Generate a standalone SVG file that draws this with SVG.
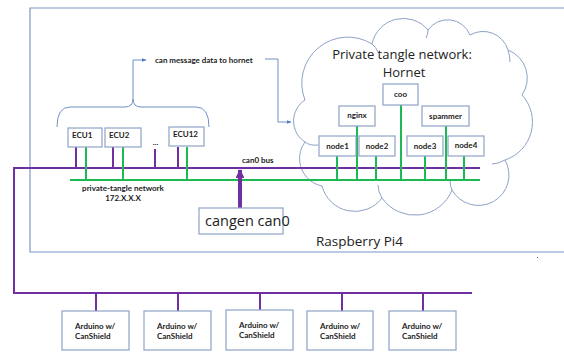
<svg xmlns="http://www.w3.org/2000/svg" width="564" height="352" viewBox="0 0 564 352">
<defs>
<style>
.frame{fill:none;stroke:#7f96c4;stroke-width:1.2}
.box{fill:#fff;stroke:#8ea2c6;stroke-width:1.2}
.pur{fill:none;stroke:#7030a0;stroke-width:2}
.grn{fill:none;stroke:#1db954;stroke-width:2}
.blue{fill:none;stroke:#6f8fc9;stroke-width:1}
.cloud{fill:none;stroke:#8ea2c6;stroke-width:1}
.lbl{font-family:Lato,"Liberation Sans",sans-serif;font-weight:bold;font-size:8px;fill:#222}
.big{font-family:"Open Sans","Liberation Sans",sans-serif;fill:#222}
</style>
<marker id="ab" viewBox="0 0 10 10" refX="9" refY="5" markerWidth="5" markerHeight="5" orient="auto"><path d="M0,1 L10,5 L0,9 z" fill="#4f7bc9"/></marker>
<marker id="ap" viewBox="0 0 10 10" refX="9" refY="5" markerWidth="2.2" markerHeight="2.2" orient="auto"><path d="M0,0 L10,5 L0,10 z" fill="#7030a0"/></marker>
</defs>
<rect width="564" height="352" fill="#fff"/>
<g id="raspberry-pi">
<path class="frame" d="M570,8 H30 V252 H570"/>
<text class="big" x="316" y="246" font-size="13.5">Raspberry Pi4</text>
</g>
<g id="cloud">
<path class="cloud" d="M305,100 A46,46 0 0 1 372,44 A32,32 0 0 1 428,30 A24,24 0 0 1 470,35 A26,26 0 0 1 508,50 A30,30 0 0 1 522,95 A40,40 0 0 1 505,160 A30,30 0 0 1 452,190 A40,40 0 0 1 382,198 A34,34 0 0 1 322,186 A28,28 0 0 1 305,142 A25,25 0 0 1 305,100 Z"/>
<path class="cloud" d="M305,142 Q310,146 318,145 M382,198 Q378,192 378,185 M452,190 Q450,186 450,180 M505,160 Q498,164 492,164 M508,50 Q510,56 510,62 M372,44 Q376,47 378,52 M428,30 Q428,34 426,38"/>
<text class="big" x="402" y="59" font-size="13" text-anchor="middle">Private tangle network:</text>
<text class="big" x="404" y="77" font-size="13" text-anchor="middle">Hornet</text>
</g>
<g id="connectors">
<path class="pur" d="M480,168 H14 V293 H472"/>
<path class="grn" d="M70,180 H480"/>
<path class="pur" d="M76,147 V168 M113,147 V168 M155,149 V168 M178,147 V168"/>
<path class="grn" d="M86,147 V180 M123,147 V180 M187,147 V180"/>
<path class="grn" d="M337,156 V180 M357,126 V180 M376,156 V180 M401,105 V180 M425,156 V180 M446,126 V180 M464,156 V180"/>
<path class="pur" d="M96,293 V311 M178,293 V311 M260,293 V311 M342,293 V311 M423,293 V311"/>
<path fill="none" stroke="#7030a0" stroke-width="4" d="M240,208 V170" marker-end="url(#ap)"/>
<path class="blue" d="M57,127 Q57,107 70,107 L125,107 Q133,107 133,99 Q133,107 141,107 L196,107 Q209,107 209,127"/>
<path class="blue" d="M133,99 V60 H146" marker-end="url(#ab)"/>
<path class="blue" d="M265,59 H278 V122 H291" marker-end="url(#ab)"/>
</g>
<text class="lbl" x="155" y="62.5">can message data to hornet</text>
<text class="lbl" x="242" y="163">can0 bus</text>
<text class="lbl" x="123" y="190.5" text-anchor="middle">private-tangle network</text>
<text class="lbl" x="123" y="200.5" text-anchor="middle">172.X.X.X</text>
<text class="lbl" x="155.5" y="145" font-size="11" text-anchor="middle">...</text>
<g id="ecu1"><rect class="box" x="68" y="128" width="34" height="19"/><text class="lbl" x="72" y="138">ECU1</text></g>
<g id="ecu2"><rect class="box" x="105" y="128" width="36" height="19"/><text class="lbl" x="109" y="138">ECU2</text></g>
<g id="ecu12"><rect class="box" x="169" y="127" width="35" height="19"/><text class="lbl" x="173" y="137">ECU12</text></g>
<g id="coo"><rect class="box" x="383" y="84" width="35" height="21"/><text class="lbl" x="400.5" y="97" text-anchor="middle">coo</text></g>
<g id="nginx"><rect class="box" x="339" y="106" width="36" height="20"/><text class="lbl" x="357" y="118" text-anchor="middle">nginx</text></g>
<g id="spammer"><rect class="box" x="422" y="106" width="47" height="20"/><text class="lbl" x="445.5" y="119" text-anchor="middle">spammer</text></g>
<g id="node1"><rect class="box" x="319" y="136" width="37" height="20"/><text class="lbl" x="337.5" y="149" text-anchor="middle">node1</text></g>
<g id="node2"><rect class="box" x="359" y="136" width="36" height="20"/><text class="lbl" x="377" y="149" text-anchor="middle">node2</text></g>
<g id="node3"><rect class="box" x="407" y="136" width="36" height="20"/><text class="lbl" x="425" y="149" text-anchor="middle">node3</text></g>
<g id="node4"><rect class="box" x="448" y="136" width="36" height="20"/><text class="lbl" x="466" y="148" text-anchor="middle">node4</text></g>
<g id="cangen"><rect class="box" x="199" y="208" width="84" height="26"/><text class="big" x="205" y="226" font-size="14.5">cangen can0</text></g>
<g id="arduino1"><rect class="box" x="62" y="311" width="67" height="39"/><text class="lbl" x="75" y="329">Arduino w/</text><text class="lbl" x="75" y="339">CanShield</text></g>
<g id="arduino2"><rect class="box" x="144" y="311" width="67" height="39"/><text class="lbl" x="157" y="329">Arduino w/</text><text class="lbl" x="157" y="339">CanShield</text></g>
<g id="arduino3"><rect class="box" x="226" y="310" width="67" height="40"/><text class="lbl" x="239" y="328">Arduino w/</text><text class="lbl" x="239" y="338">CanShield</text></g>
<g id="arduino4"><rect class="box" x="307" y="311" width="66" height="39"/><text class="lbl" x="320" y="329">Arduino w/</text><text class="lbl" x="320" y="339">CanShield</text></g>
<g id="arduino5"><rect class="box" x="389" y="311" width="67" height="39"/><text class="lbl" x="402" y="329">Arduino w/</text><text class="lbl" x="402" y="339">CanShield</text></g>
<rect x="537" y="257" width="1" height="1" fill="#555"/>
</svg>
